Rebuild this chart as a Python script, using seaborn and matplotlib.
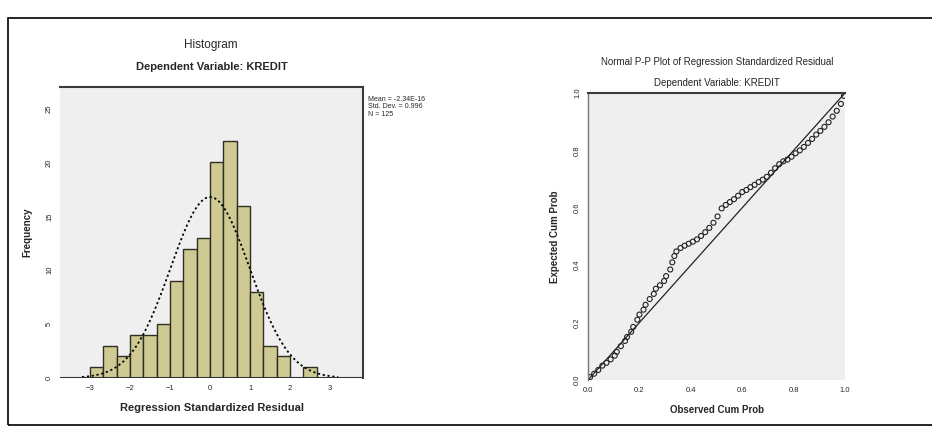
import numpy as np
import pandas as pd
import matplotlib
matplotlib.use("Agg")
import matplotlib.pyplot as plt
from matplotlib.patches import Rectangle
import seaborn as sns

# Histogram of standardized residuals (bins of 1/3 from -3 to 3)
bin_edges = list(np.linspace(-3, 3, 19))
bin_counts = [1, 3, 2, 4, 4, 5, 9, 12, 13, 20, 22, 16, 8, 3, 2, 0, 1, 0]
res_mean = 0.0
res_std = 0.99
res_n = 125
stats_lines = ["Mean = -2.34E-16", "Std. Dev. = 0.996", "N = 125"]

# Normal P-P plot points (observed vs expected cumulative probability)
observed_cum = [0.008, 0.024, 0.040, 0.056, 0.072, 0.088, 0.104, 0.112, 0.128, 0.144,
                0.152, 0.168, 0.176, 0.192, 0.200, 0.216, 0.224, 0.240, 0.256, 0.264,
                0.280, 0.296, 0.304, 0.320, 0.328, 0.336, 0.344, 0.360, 0.376, 0.392,
                0.408, 0.424, 0.440, 0.456, 0.472, 0.488, 0.504, 0.520, 0.536, 0.552,
                0.568, 0.584, 0.600, 0.616, 0.632, 0.648, 0.664, 0.680, 0.696, 0.712,
                0.728, 0.744, 0.760, 0.776, 0.792, 0.808, 0.824, 0.840, 0.856, 0.872,
                0.888, 0.904, 0.920, 0.936, 0.952, 0.968, 0.984, 0.996]
expected_cum = [0.010, 0.022, 0.035, 0.050, 0.060, 0.072, 0.085, 0.098, 0.118, 0.136,
                0.150, 0.168, 0.185, 0.210, 0.228, 0.245, 0.262, 0.282, 0.300, 0.318,
                0.330, 0.345, 0.362, 0.385, 0.410, 0.432, 0.448, 0.460, 0.468, 0.475,
                0.482, 0.490, 0.502, 0.515, 0.530, 0.548, 0.570, 0.598, 0.610, 0.620,
                0.630, 0.642, 0.655, 0.662, 0.672, 0.680, 0.690, 0.698, 0.708, 0.722,
                0.738, 0.752, 0.762, 0.768, 0.778, 0.790, 0.800, 0.812, 0.826, 0.840,
                0.855, 0.868, 0.882, 0.898, 0.918, 0.938, 0.962, 0.990]

sns.set_style("white")
plt.rcParams["font.family"] = ["Liberation Sans Narrow", "Liberation Sans", "DejaVu Sans"]

fig = plt.figure(figsize=(9.32, 4.37), dpi=100)

# outer frame
fig.patches.append(Rectangle((8 / 932, 12 / 437), 1.0, 407 / 437, transform=fig.transFigure,
                             fill=False, edgecolor="black", linewidth=1.2))

bg = "#efefef"
bar_col = "#cfc993"

### HISTOGRAM ##########################################################################
ax1 = fig.add_axes([60 / 932, (437 - 378) / 437, 303 / 932, 291 / 437])
ax1.set_facecolor(bg)
hist_df = pd.DataFrame({"residual": [(a + b) / 2 for a, b in zip(bin_edges[:-1], bin_edges[1:])],
                        "count": bin_counts})
sns.histplot(data=hist_df, x="residual", weights="count", bins=bin_edges, color=bar_col, alpha=1,
             edgecolor="#2e2e22", linewidth=1.0, ax=ax1)

xs = np.linspace(-3.2, 3.2, 200)
curve = res_n * (1 / 3) * np.exp(-0.5 * ((xs - res_mean) / res_std) ** 2) / (res_std * np.sqrt(2 * np.pi))
sns.lineplot(x=xs, y=curve, color="black", linestyle=(0, (1.2, 1.5)), linewidth=1.3, ax=ax1)
ax1.axhline(0, color="#333333", linewidth=1.5)

ax1.set_xlim(-3.75, 3.82)
ax1.set_ylim(0, 27)
ax1.set_xticks(range(-3, 4))
ax1.set_yticks(range(0, 26, 5))
ax1.tick_params(axis="both", labelsize=5.5, length=3, width=0.7, color="#555555", pad=2)
ax1.tick_params(axis="y", labelrotation=90)
for lab in ax1.get_yticklabels():
    lab.set_va("center")
for side in ["left", "bottom"]:
    ax1.spines[side].set_visible(False)
for side in ["top", "right"]:
    ax1.spines[side].set_color("#3a3a3a")
    ax1.spines[side].set_linewidth(1.5)
ax1.set_xlabel("Regression Standardized Residual", fontsize=8, fontweight="bold", labelpad=8)
ax1.set_ylabel("Frequency", fontsize=7, fontweight="bold", labelpad=10)
ax1.set_title("Dependent Variable: KREDIT", fontsize=8, fontweight="bold", pad=12)
fig.text(211 / 932, 1 - 45 / 437, "Histogram", fontsize=8.5, ha="center", va="center")
fig.text(368 / 932, 1 - 96 / 437, "\n".join(stats_lines), fontsize=5, ha="left", va="top",
         linespacing=1.1)

### P-P PLOT ##########################################################################
ax2 = fig.add_axes([588 / 932, (437 - 380) / 437, 257 / 932, 287 / 437])
ax2.set_facecolor(bg)
pp = pd.DataFrame({"Observed Cum Prob": observed_cum, "Expected Cum Prob": expected_cum})
sns.lineplot(x=[0, 1], y=[0, 1], color="#222222", linewidth=0.9, ax=ax2)
sns.scatterplot(data=pp, x="Observed Cum Prob", y="Expected Cum Prob", marker="o", s=13,
                facecolor="none", edgecolor="#222222", linewidth=0.8, ax=ax2)
ax2.set_xlim(0, 1)
ax2.set_ylim(0, 1)
ticks = [0.0, 0.2, 0.4, 0.6, 0.8, 1.0]
ax2.set_xticks(ticks)
ax2.set_yticks(ticks)
ax2.set_xticklabels([f"{t:.1f}" for t in ticks])
ax2.set_yticklabels([f"{t:.1f}" for t in ticks])
ax2.tick_params(axis="both", labelsize=5.5, length=3, width=0.7, color="#555555", pad=2)
ax2.tick_params(axis="y", labelrotation=90)
for lab in ax2.get_yticklabels():
    lab.set_va("center")
ax2.spines["bottom"].set_visible(False)
ax2.spines["left"].set_color("#777777")
ax2.spines["left"].set_linewidth(1.0)
ax2.spines["top"].set_color("#3a3a3a")
ax2.spines["top"].set_linewidth(1.5)
ax2.spines["right"].set_visible(False)
ax2.set_xlabel("Observed Cum Prob", fontsize=7, fontweight="bold", labelpad=8)
ax2.set_ylabel("Expected Cum Prob", fontsize=7, fontweight="bold", labelpad=10)
ax2.set_title("Dependent Variable: KREDIT", fontsize=7, pad=5)
fig.text(717 / 932, 1 - 62 / 437, "Normal P-P Plot of Regression Standardized Residual",
         fontsize=7, ha="center", va="center")

fig.savefig("out.png", dpi=100)
